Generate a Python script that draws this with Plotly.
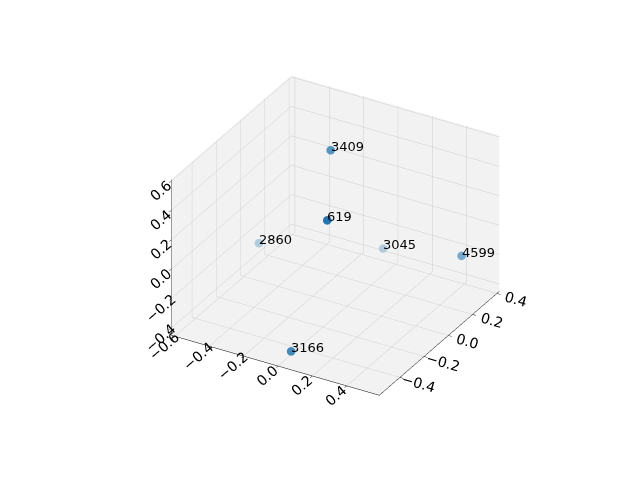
import numpy as np
import plotly.graph_objects as go

# point labels and their 3D coordinates
labels = ["619", "2860", "3045", "3166", "3409", "4599"]
xs = [0.11, -0.57, -0.03, 0.02, -0.11, 0.49]
ys = [-0.32, 0.08, 0.34, -0.49, 0.02, 0.25]
zs = [0.40, -0.27, -0.31, -0.40, 0.56, -0.12]

xrange_ = [-0.62, 0.59]
yrange_ = [-0.57, 0.42]
zrange_ = [-0.45, 0.61]
aspect = dict(x=1, y=1, z=0.75)

# matplotlib-like view: elev=30, azim=-60
elev, azim = np.radians(30), np.radians(-60)
view = np.array([np.cos(elev) * np.cos(azim), np.cos(elev) * np.sin(azim), np.sin(elev)])


def depth_colors(x, y, z, base=(31, 119, 180), bg=(242, 242, 242)):
    # mimic matplotlib's depthshade: nearer points opaque, far ones faded
    nx = (np.array(x) - xrange_[0]) / (xrange_[1] - xrange_[0]) * aspect["x"]
    ny = (np.array(y) - yrange_[0]) / (yrange_[1] - yrange_[0]) * aspect["y"]
    nz = (np.array(z) - zrange_[0]) / (zrange_[1] - zrange_[0]) * aspect["z"]
    near = nx * view[0] + ny * view[1] + nz * view[2]
    t = (near - near.min()) / (near.max() - near.min())
    alpha = 0.3 + 0.7 * t
    cols = []
    for a in alpha:
        c = [round(a * b + (1 - a) * g) for b, g in zip(base, bg)]
        cols.append(f"rgb({c[0]},{c[1]},{c[2]})")
    return cols


fig = go.Figure()
fig.add_trace(go.Scatter3d(
    x=xs, y=ys, z=zs,
    mode="markers",
    marker=dict(size=5, color=depth_colors(xs, ys, zs), line=dict(width=0)),
    hoverinfo="skip",
    showlegend=False,
))

annotations = [
    dict(x=x, y=y, z=z, text=t, showarrow=False,
         xanchor="left", yanchor="bottom", xshift=-2, yshift=-6,
         font=dict(size=13, color="black", family="DejaVu Sans"))
    for x, y, z, t in zip(xs, ys, zs, labels)
]

axis_style = dict(
    title=dict(text=""),
    showbackground=True,
    backgroundcolor="rgb(242,242,242)",
    gridcolor="rgb(205,205,205)",
    gridwidth=1,
    showline=True,
    linecolor="black",
    linewidth=1,
    ticks="outside",
    tickcolor="black",
    ticklen=4,
    tickfont=dict(size=13, color="black", family="DejaVu Sans"),
    dtick=0.2,
    tickformat=".1f",
    zeroline=False,
    showspikes=False,
)

# nudge the view so the box sits where matplotlib puts it
right = np.array([-np.sin(azim), np.cos(azim), 0.0])
up = np.array([-np.sin(elev) * np.cos(azim), -np.sin(elev) * np.sin(azim), np.cos(elev)])
shift = -(7 * right + 12 * up) / 228.0

eye_dist = 2.0
fig.update_layout(
    width=640, height=480,
    paper_bgcolor="white",
    margin=dict(l=0, r=0, t=0, b=0),
    scene=dict(
        domain=dict(x=[0.0, 1.0], y=[0.0, 1.0]),
        xaxis=dict(range=xrange_, **axis_style),
        yaxis=dict(range=yrange_, **axis_style),
        zaxis=dict(range=zrange_, **axis_style),
        aspectmode="manual",
        aspectratio=aspect,
        annotations=annotations,
        camera=dict(
            eye=dict(x=eye_dist * view[0] + shift[0], y=eye_dist * view[1] + shift[1],
                     z=eye_dist * view[2] + shift[2]),
            up=dict(x=0, y=0, z=1),
            center=dict(x=shift[0], y=shift[1], z=shift[2]),
            projection=dict(type="orthographic"),
        ),
    ),
)

fig.write_html("out.html")
